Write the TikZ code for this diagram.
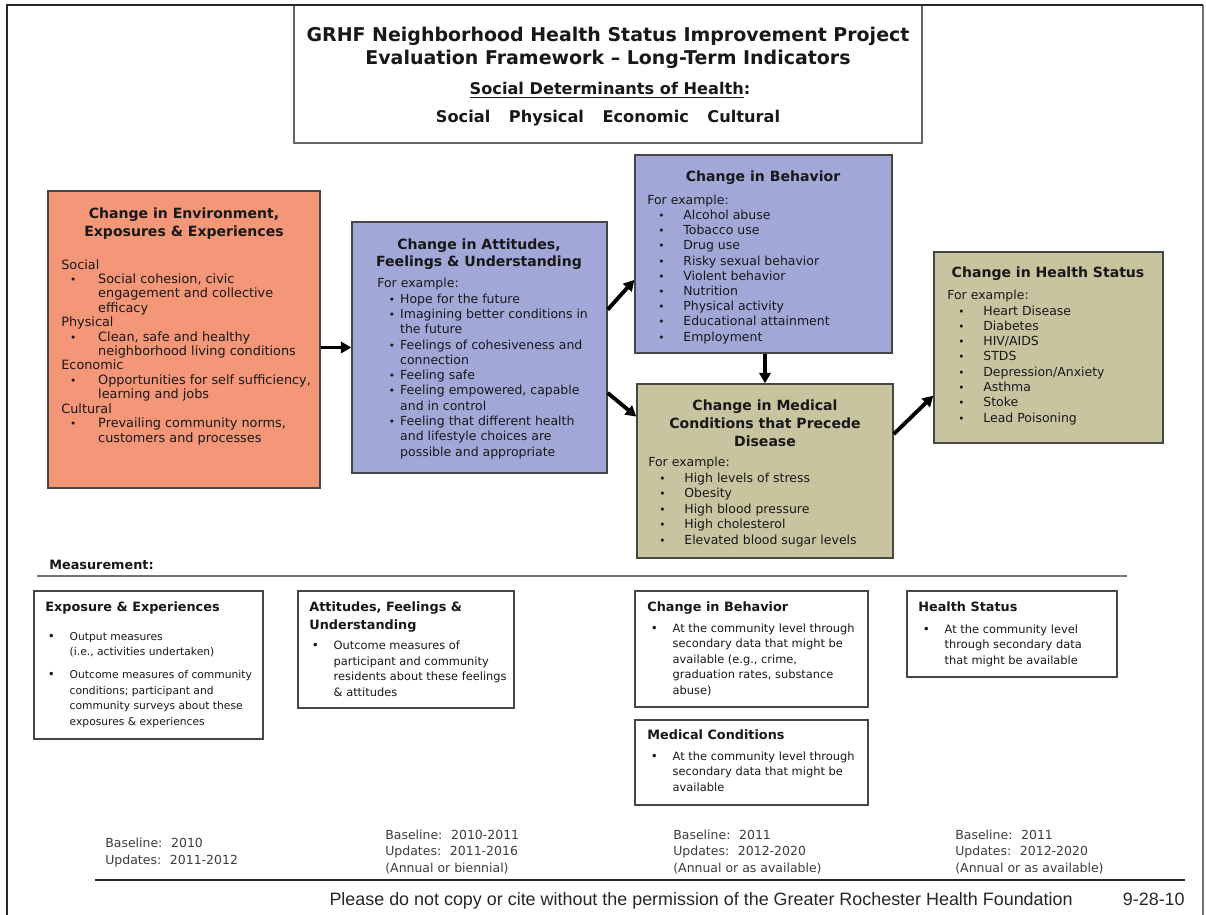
\documentclass[tikz,border=0pt]{standalone}
\usepackage{fontspec}
\setmainfont{DejaVu Sans}
\newfontfamily\footfont{Liberation Sans}
\usetikzlibrary{arrows.meta,calc,fit}
\definecolor{envc}{RGB}{244,150,120}
\definecolor{attc}{RGB}{161,167,215}
\definecolor{medc}{RGB}{200,196,160}
\definecolor{bordc}{RGB}{70,70,70}
\definecolor{txtc}{RGB}{24,24,24}
\definecolor{basec}{RGB}{60,60,60}
\newcommand{\bmark}{{\fontsize{6}{6}\selectfont •}}
\newcommand{\mbmark}{{\fontsize{6.8}{6.8}\selectfont •}}
\newcommand{\bA}{\makebox[21pt][l]{\hspace{5pt}\bmark}}
\newcommand{\cA}{\makebox[21pt]{}}
\newcommand{\bB}{\makebox[13pt][l]{\hspace{6.5pt}\bmark}}
\newcommand{\cB}{\makebox[13pt]{}}
\newcommand{\bC}{\makebox[20.5pt][l]{\hspace{6.2pt}\bmark}}
\newcommand{\cC}{\makebox[20.5pt]{}}
\newcommand{\bM}{\makebox[13.3pt][l]{\hspace{0.8pt}\mbmark}}
\newcommand{\cM}{\makebox[13.3pt]{}}
\begin{document}
\begin{tikzpicture}[x=0.02cm,y=-0.02cm,
  box/.style={draw=bordc,line width=0.8pt,inner sep=0pt},
  mbox/.style={draw=bordc,line width=0.8pt,inner sep=0pt,fill=white},
  ttl/.style={font=\bfseries\fontsize{8}{10.2}\selectfont,text=txtc,align=center,anchor=base,inner sep=0pt},
  body/.style={font=\fontsize{7.1}{8.7}\selectfont,text=txtc,align=left,anchor=base west,inner sep=0pt},
  mtitle/.style={font=\bfseries\fontsize{7.3}{10.2}\selectfont,text=txtc,align=left,anchor=base west,inner sep=0pt},
  mbody/.style={font=\fontsize{6.5}{8.8}\selectfont,text=txtc,align=left,anchor=base west,inner sep=0pt},
  basetxt/.style={font=\fontsize{7.1}{9.3}\selectfont,text=basec,align=left,anchor=base west,inner sep=0pt},
  hdrtxt/.style={font=\bfseries\fontsize{10.8}{13}\selectfont,text=txtc,anchor=base,inner sep=0pt},
  arr/.style={line width=2.2pt,-{Triangle[length=6pt,width=6.5pt]}},
]
\useasboundingbox (0,0) rectangle (1206,915);
\fill[white] (0,0) rectangle (1206,915);

% page frame
\draw[line width=0.7pt, black!55] (1203,5) -- (1203,915);
% header box
\node[fit={(294,5)(922,143)}, draw=black!60, line width=0.6pt, inner sep=0pt] (hdr) {};
\draw[line width=1.4pt, black!85] (7,915) -- (7,5) -- (1203,5);
\node[hdrtxt] (t1) at (608,42) {GRHF Neighborhood Health Status Improvement Project};
\node[hdrtxt] (t2) at (608,65) {Evaluation Framework – Long-Term Indicators};
\node[hdrtxt, font=\bfseries\fontsize{9.2}{11}\selectfont] (t3) at (610,95) {\underline{Social Determinants of Health}:};
\node[hdrtxt, font=\bfseries\fontsize{9.2}{11}\selectfont] (t4) at (608,123) {Social\hspace{1.15em}Physical\hspace{1.15em}Economic\hspace{1.15em}Cultural};

% coloured boxes
\node[box, fill=envc, fit={(48,191)(320,488)}] (env) {};
\node[box, fill=attc, fit={(352,222)(607,473)}] (att) {};
\node[box, fill=attc, fit={(635,155)(892,353)}] (beh) {};
\node[box, fill=medc, fit={(637,384)(893,558)}] (med) {};
\node[box, fill=medc, fit={(934,252)(1163,443)}] (hs) {};

% environment box (multi-line nodes: base = last line)
\node[ttl, font=\bfseries\fontsize{8}{10.8}\selectfont] (envT) at (184,237) {Change in Environment,\\Exposures \& Experiences};
\node[body, font=\fontsize{7.3}{8.2}\selectfont] (envB) at (61,442) {Social\\
\bA Social cohesion, civic\\
\cA engagement and collective\\
\cA efficacy\\
Physical\\
\bA Clean, safe and healthy\\
\cA neighborhood living conditions\\
Economic\\
\bA Opportunities for self sufficiency,\\
\cA learning and jobs\\
Cultural\\
\bA Prevailing community norms,\\
\cA customers and processes};

% attitudes box
\node[ttl, font=\bfseries\fontsize{8}{9.8}\selectfont] (attT) at (479,267) {Change in Attitudes,\\Feelings \& Understanding};
\node[body] (attB) at (377,456) {For example:\\
\bB Hope for the future\\
\bB Imagining better conditions in\\
\cB the future\\
\bB Feelings of cohesiveness and\\
\cB connection\\
\bB Feeling safe\\
\bB Feeling empowered, capable\\
\cB and in control\\
\bB Feeling that different health\\
\cB and lifestyle choices are\\
\cB possible and appropriate};

% behavior box
\node[ttl] (behT) at (763,182) {Change in Behavior};
\node[body, font=\fontsize{7.1}{8.65}\selectfont] (behB) at (647,341) {For example:\\
\bC Alcohol abuse\\
\bC Tobacco use\\
\bC Drug use\\
\bC Risky sexual behavior\\
\bC Violent behavior\\
\bC Nutrition\\
\bC Physical activity\\
\bC Educational attainment\\
\bC Employment};

% medical box
\node[ttl] (medT) at (765,446) {Change in Medical\\Conditions that Precede\\Disease};
\node[body, font=\fontsize{7.1}{8.8}\selectfont] (medB) at (648,544) {For example:\\
\bC High levels of stress\\
\bC Obesity\\
\bC High blood pressure\\
\bC High cholesterol\\
\bC Elevated blood sugar levels};

% health status box
\node[ttl] (hsT) at (1048,278) {Change in Health Status};
\node[body] (hsB) at (947,422) {For example:\\
\bC Heart Disease\\
\bC Diabetes\\
\bC HIV/AIDS\\
\bC STDS\\
\bC Depression/Anxiety\\
\bC Asthma\\
\bC Stoke\\
\bC Lead Poisoning};

% arrows
\draw[arr] (env.east |- att.west) -- (att.west);
\draw[arr] ($(att.north east)!0.35!(att.south east)$) -- ($(beh.north west)!0.63!(beh.south west)$);
\draw[arr] ($(att.north east)!0.68!(att.south east)$) -- ($(med.north west)!0.19!(med.south west)$);
\draw[arr] (beh.south -| med.north) -- (med.north);
\draw[arr] ($(med.north east)!0.29!(med.south east)$) -- ($(hs.north west)!0.75!(hs.south west)$);

% measurement
\node[mtitle] (meas) at (49,569) {Measurement:};
\coordinate (ml) at (37,576);
\coordinate (mr) at (1127,576);
\draw[line width=1pt, black!55] (ml) -- (mr);

\node[mbox, fit={(34,591)(263,739)}] (mexp) {};
\node[mbox, fit={(298,591)(514,708)}] (matt) {};
\node[mbox, fit={(635,591)(868,707)}] (mbeh) {};
\node[mbox, fit={(635,720)(868,805)}] (mmed) {};
\node[mbox, fit={(907,591)(1117,677)}] (mhs) {};

\node[mtitle] (mexpT) at (45,611) {Exposure \& Experiences};
\node[mbody, font=\fontsize{6.1}{8.8}\selectfont] (mexpB) at (46,725) {\bM Output measures\\
\cM (i.e., activities undertaken)\\[4.2pt]
\bM Outcome measures of community\\
\cM conditions; participant and\\
\cM community surveys about these\\
\cM exposures \& experiences};

\node[mtitle] (mattT) at (309,629) {Attitudes, Feelings \&\\Understanding};
\node[mbody] (mattB) at (310,696) {\bM Outcome measures of\\
\cM participant and community\\
\cM residents about these feelings\\
\cM \& attitudes};

\node[mtitle] (mbehT) at (647,611) {Change in Behavior};
\node[mbody] (mbehB) at (649,694) {\bM At the community level through\\
\cM secondary data that might be\\
\cM available (e.g., crime,\\
\cM graduation rates, substance\\
\cM abuse)};

\node[mtitle] (mmedT) at (647,739) {Medical Conditions};
\node[mbody] (mmedB) at (649,791) {\bM At the community level through\\
\cM secondary data that might be\\
\cM available};

\node[mtitle] (mhsT) at (918,611) {Health Status};
\node[mbody] (mhsB) at (921,664) {\bM At the community level\\
\cM through secondary data\\
\cM that might be available};

% baselines
\node[basetxt] (bl1) at (105,864) {Baseline:\hspace{0.7em}2010\\Updates:\hspace{0.7em}2011-2012};
\node[basetxt] (bl2) at (385,872) {Baseline:\hspace{0.7em}2010-2011\\Updates:\hspace{0.7em}2011-2016\\(Annual or biennial)};
\node[basetxt] (bl3) at (673,872) {Baseline:\hspace{0.7em}2011\\Updates:\hspace{0.7em}2012-2020\\(Annual or as available)};
\node[basetxt] (bl4) at (955,872) {Baseline:\hspace{0.7em}2011\\Updates:\hspace{0.7em}2012-2020\\(Annual or as available)};

% footer
\coordinate (fl) at (95,880);
\coordinate (fr) at (1185,880);
\draw[line width=0.8pt, black!85] (fl) -- (fr);
\node[font=\footfont\fontsize{10.2}{12}\selectfont, text=black!85, anchor=base east, inner sep=0pt] (foot) at (1073,905) {Please do not copy or cite without the permission of the Greater Rochester Health Foundation};
\node[font=\footfont\fontsize{10.2}{12}\selectfont, text=black!85, anchor=base east, inner sep=0pt] (date) at (1185,905) {9-28-10};
\end{tikzpicture}
\end{document}
